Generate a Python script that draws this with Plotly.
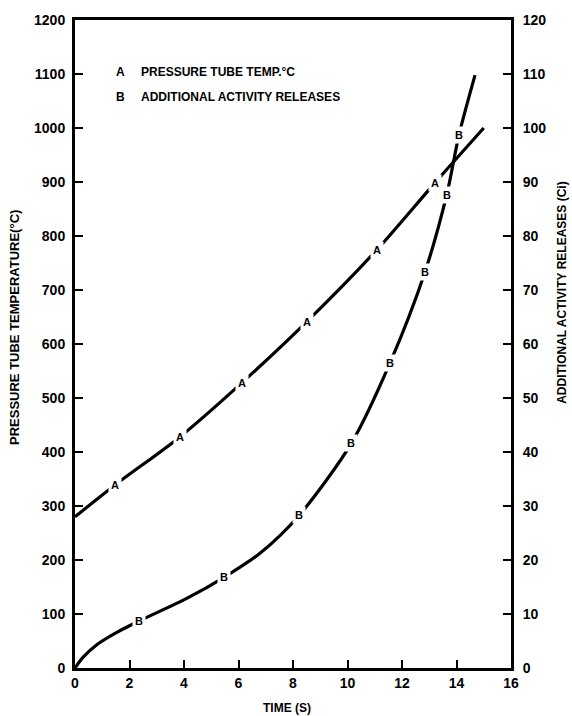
import plotly.graph_objects as go

# Curve A: pressure tube temperature (deg C) against time (s)
time_a = [0, 1.47, 3.85, 6.12, 8.5, 11.07, 13.2, 15.0]
temp_a = [280, 339, 428, 528, 641, 774, 898, 1000]
label_idx_a = [1, 2, 3, 4, 5, 6]

# Curve B: additional activity releases (Ci) against time (s)
time_b = [0, 0.3, 0.8, 1.5, 2.35, 4.1, 5.47, 6.8, 8.23, 10.14, 11.56, 12.84, 13.64, 14.09, 14.68]
rel_b = [0, 2.0, 4.3, 6.5, 8.7, 12.9, 16.8, 21.3, 28.3, 41.6, 56.5, 73.3, 87.6, 98.7, 109.8]
label_idx_b = [4, 6, 8, 9, 10, 11, 12, 13]

x_ticks = list(range(0, 17, 2))
temp_ticks = list(range(0, 1201, 100))
rel_ticks = list(range(0, 121, 10))

FONT = "Liberation Sans"
INK = "black"

fig = go.Figure()
fig.add_trace(go.Scatter(
    x=time_a, y=temp_a, mode="lines", yaxis="y",
    line=dict(color=INK, width=3.2, shape="spline", smoothing=0.8), hoverinfo="skip",
))
fig.add_trace(go.Scatter(
    x=time_b, y=rel_b, mode="lines", yaxis="y2",
    line=dict(color=INK, width=3.2, shape="spline", smoothing=0.8), hoverinfo="skip",
))

annotations = []
# curve letters sit on the line, breaking it with a white patch
for i in label_idx_a:
    annotations.append(dict(
        x=time_a[i], y=temp_a[i], xref="x", yref="y", text="A", showarrow=False,
        bgcolor="white", borderpad=2, font=dict(family=FONT, size=11, color=INK, weight="bold"),
    ))
for i in label_idx_b:
    annotations.append(dict(
        x=time_b[i], y=rel_b[i], xref="x", yref="y2", text="B", showarrow=False,
        bgcolor="white", borderpad=2, font=dict(family=FONT, size=11, color=INK, weight="bold"),
    ))

# key in the upper-left corner
key_font = dict(family=FONT, size=12, color=INK, weight="bold")
for letter, text, yy in [("A", "PRESSURE TUBE TEMP.°C", 0.9198),
                         ("B", "ADDITIONAL ACTIVITY RELEASES", 0.881)]:
    annotations.append(dict(x=0.1055, y=yy, xref="paper", yref="paper", text=letter,
                            showarrow=False, xanchor="center", yanchor="middle", font=key_font))
    annotations.append(dict(x=0.1468, y=yy, xref="paper", yref="paper", text=text,
                            showarrow=False, xanchor="left", yanchor="middle", font=key_font))

# axis titles
annotations.append(dict(x=-0.1376, y=0.5247, xref="paper", yref="paper", textangle=-90,
                        text="PRESSURE TUBE TEMPERATURE(°C)", showarrow=False,
                        xanchor="center", yanchor="middle",
                        font=dict(family=FONT, size=13, color=INK, weight="bold")))
annotations.append(dict(x=1.117, y=0.579, xref="paper", yref="paper", textangle=-90,
                        text="ADDITIONAL ACTIVITY RELEASES (Ci)", showarrow=False,
                        xanchor="center", yanchor="middle",
                        font=dict(family=FONT, size=12, color=INK, weight="bold")))
annotations.append(dict(x=0.486, y=-0.0617, xref="paper", yref="paper",
                        text="TIME (S)", showarrow=False, xanchor="center", yanchor="middle",
                        font=dict(family=FONT, size=12, color=INK, weight="bold")))

tick_font = dict(family=FONT, size=14, color=INK, weight="bold")
axis_common = dict(
    showgrid=False, zeroline=False, showline=True, linecolor=INK, linewidth=3,
    ticks="inside", ticklen=8, tickwidth=2, tickcolor=INK, tickfont=tick_font,
)

fig.update_layout(
    width=572, height=716,
    margin=dict(l=75, r=61, t=20, b=48),
    paper_bgcolor="white", plot_bgcolor="white",
    showlegend=False,
    xaxis=dict(range=[0, 16], tickvals=x_ticks, mirror=True, **axis_common),
    yaxis=dict(range=[0, 1200], tickvals=temp_ticks, ticklabelstandoff=4, **axis_common),
    yaxis2=dict(range=[0, 120], tickvals=rel_ticks, overlaying="y", side="right",
                ticklabelstandoff=6, **axis_common),
    annotations=annotations,
)

fig.write_html("out.html")
